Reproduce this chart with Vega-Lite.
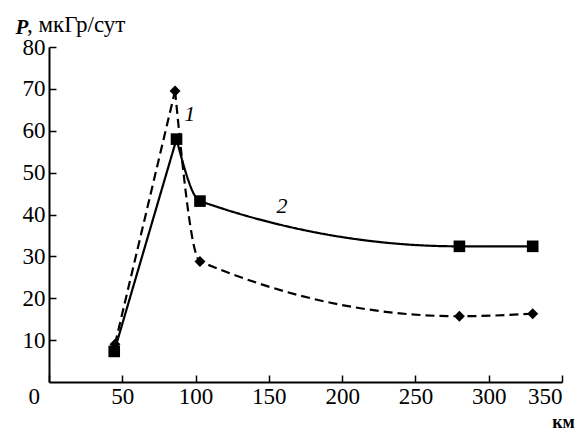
{
  "$schema": "https://vega.github.io/schema/vega-lite/v6.json",
  "width": 513,
  "height": 335,
  "autosize": {"type": "none"},
  "padding": {"left": 49, "top": 47, "right": 21, "bottom": 48},
  "background": "white",
  "config": {"view": {"stroke": null}, "font": "Liberation Serif"},
  "datasets": {
    "pts": [
      {"series": "1", "x": 45, "y": 9},
      {"series": "1", "x": 86, "y": 69.5},
      {"series": "1", "x": 103, "y": 28.8},
      {"series": "1", "x": 280, "y": 15.7},
      {"series": "1", "x": 330, "y": 16.3},
      {"series": "2", "x": 44.5, "y": 7.3},
      {"series": "2", "x": 87, "y": 58},
      {"series": "2", "x": 103, "y": 43.2},
      {"series": "2", "x": 280, "y": 32.4},
      {"series": "2", "x": 330, "y": 32.4}
    ],
    "labels": [
      {"text": "1", "x": 96, "y": 64},
      {"text": "2", "x": 159, "y": 42}
    ]
  },
  "title": {
    "text": ", мкГр/сут",
    "anchor": "start",
    "frame": "group",
    "dx": -22,
    "dy": 53,
    "offset": 14,
    "baseline": "alphabetic",
    "font": "Liberation Serif",
    "fontSize": 23,
    "fontWeight": "normal",
    "color": "black"
  },
  "layer": [
    {
      "data": {"name": "pts"},
      "transform": [{"filter": "datum.x <= 90"}],
      "mark": {"type": "line", "strokeWidth": 2.2, "color": "black"},
      "encoding": {
        "x": {
          "field": "x", "type": "quantitative",
          "scale": {"domain": [0, 350], "nice": false},
          "axis": {
            "values": [0, 50, 100, 150, 200, 250, 300, 350],
            "grid": false,
            "domainColor": "black", "domainWidth": 2,
            "tickColor": "black", "tickWidth": 1.5, "tickSize": -7,
            "labelFont": "Liberation Serif", "labelFontSize": 23, "labelColor": "black",
            "labelPadding": 10,
            "labelOffset": {"expr": "datum.value == 0 ? -21 : 0"},
            "title": "км",
            "titleFont": "Liberation Serif", "titleFontSize": 18, "titleFontWeight": "bold",
            "titleColor": "black",
            "titleX": 514, "titleY": 45, "titleAlign": "center", "titleBaseline": "alphabetic"
          }
        },
        "y": {
          "field": "y", "type": "quantitative",
          "scale": {"domain": [0, 80], "nice": false},
          "axis": {
            "values": [10, 20, 30, 40, 50, 60, 70, 80],
            "grid": false,
            "domainColor": "black", "domainWidth": 2,
            "tickColor": "black", "tickWidth": 1.5, "tickSize": -7,
            "labelFont": "Liberation Serif", "labelFontSize": 23, "labelColor": "black",
            "labelPadding": 11,
            "title": "P",
            "titleAngle": 0,
            "titleFont": "Liberation Serif", "titleFontSize": 21, "titleFontStyle": "italic",
            "titleFontWeight": "bold", "titleColor": "black",
            "titleX": -34, "titleY": -14, "titleAlign": "left", "titleBaseline": "alphabetic"
          }
        },
        "strokeDash": {
          "field": "series", "type": "nominal",
          "scale": {"domain": ["1", "2"], "range": [[9, 5], [1, 0]]},
          "legend": null
        }
      }
    },
    {
      "data": {"name": "pts"},
      "transform": [{"filter": "datum.x >= 85"}],
      "mark": {"type": "line", "strokeWidth": 2.2, "color": "black", "interpolate": "monotone"},
      "encoding": {
        "x": {"field": "x", "type": "quantitative"},
        "y": {"field": "y", "type": "quantitative"},
        "strokeDash": {"field": "series", "type": "nominal", "legend": null}
      }
    },
    {
      "data": {"name": "pts"},
      "mark": {"type": "point", "filled": true, "opacity": 1, "color": "black"},
      "encoding": {
        "x": {"field": "x", "type": "quantitative"},
        "y": {"field": "y", "type": "quantitative"},
        "shape": {
          "field": "series", "type": "nominal",
          "scale": {"domain": ["1", "2"], "range": ["diamond", "square"]},
          "legend": null
        },
        "size": {
          "field": "series", "type": "ordinal",
          "scale": {"domain": ["1", "2"], "range": [120, 135]},
          "legend": null
        }
      }
    },
    {
      "data": {"name": "labels"},
      "mark": {"type": "text", "font": "Liberation Serif", "fontSize": 22, "fontStyle": "italic", "color": "black"},
      "encoding": {
        "x": {"field": "x", "type": "quantitative"},
        "y": {"field": "y", "type": "quantitative"},
        "text": {"field": "text"}
      }
    }
  ]
}
